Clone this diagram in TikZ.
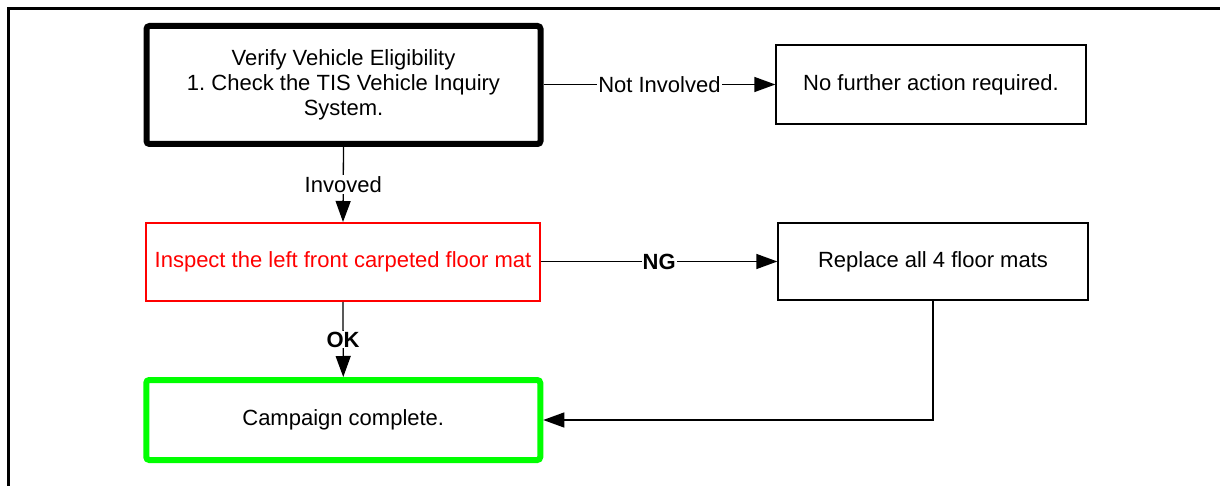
\documentclass[tikz,border=0pt]{standalone}
\usepackage{fontspec}
\setmainfont{Liberation Sans}
\usetikzlibrary{arrows.meta}
\frenchspacing
\begin{document}
\begin{tikzpicture}[x=1pt,y=-1pt,
  every node/.style={font=\fontsize{22}{25}\selectfont},
  box/.style={draw,line width=1.3pt,align=center,inner sep=0pt},
  thickbox/.style={box,line width=6pt,rounded corners=3pt},
  conn/.style={line width=1.3pt,-{Triangle[length=21pt,width=15pt]}},
  lbl/.style={fill=white,inner sep=1pt}]
\useasboundingbox (0,0) rectangle (1220,486);
\draw[line width=3pt] (8,486) -- (8,9) -- (1220,9);
\node[thickbox,minimum width=394pt,minimum height=118pt] (verify) at (343.5,85)
  {Verify Vehicle Eligibility\\1. Check the TIS Vehicle Inquiry\\System.};
\node[box,minimum width=310pt,minimum height=79pt] (nofurther) at (931,84.5)
  {No further action required.};
\node[box,draw=red,text=red,line width=2pt,minimum width=394pt,minimum height=78pt] (inspect) at (343,262)
  {Inspect the left front carpeted floor mat};
\node[box,minimum width=310pt,minimum height=77pt] (replace) at (933,261.5)
  {Replace all 4 floor mats};
\node[thickbox,draw={rgb,255:red,0;green,255;blue,0},minimum width=394pt,minimum height=80pt] (campaign) at (343.25,420)
  {Campaign complete.};
\draw[conn] (verify.east |- nofurther.west) -- node[lbl]{Not Involved} (nofurther.west);
\draw[conn] (verify.south) -- node[lbl]{Invoved} (inspect.north);
\draw[conn] (inspect.east |- replace.west) -- node[lbl]{\bfseries NG} (replace.west);
\draw[conn] (inspect.south) -- node[lbl]{\bfseries OK} (campaign.north);
\draw[conn] (replace.south) |- (campaign.east);
\end{tikzpicture}
\end{document}
